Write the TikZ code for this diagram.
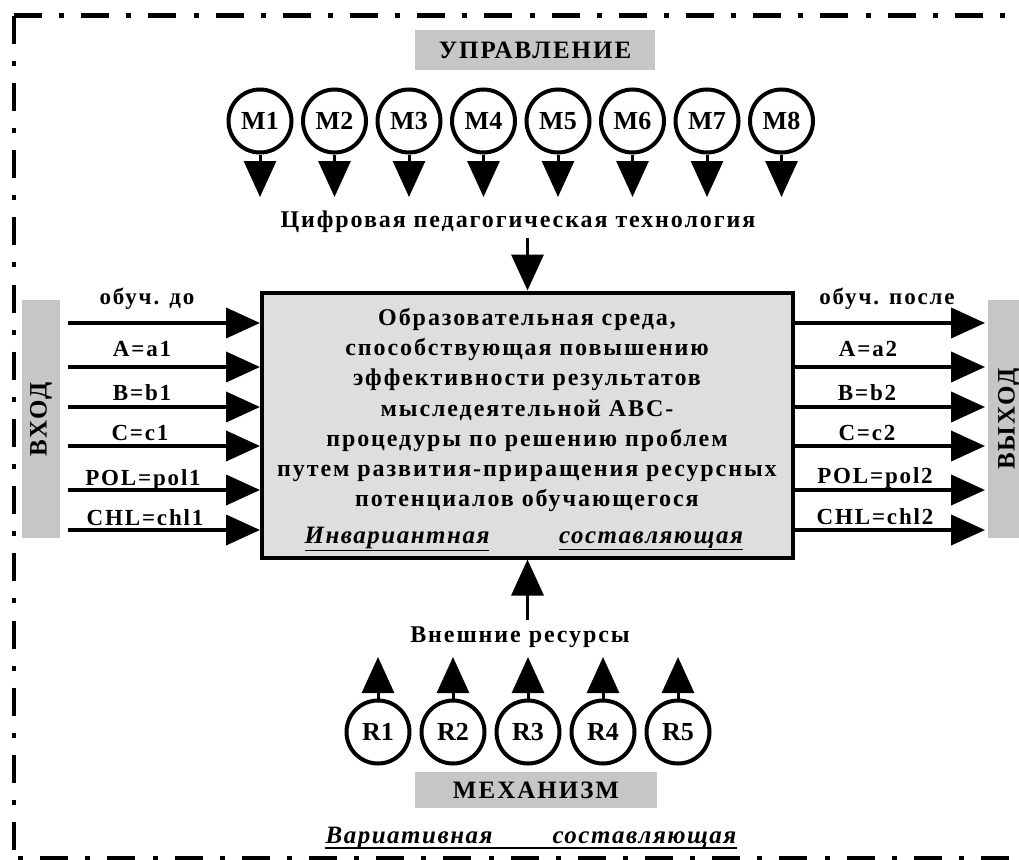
\documentclass[tikz,border=0pt]{standalone}
\usepackage{fontspec}
\setmainfont{Liberation Serif}
\newfontfamily\bx{Liberation Serif}[LetterSpace=8]
\newfontfamily\bxi{Liberation Serif}[LetterSpace=6]
\usetikzlibrary{arrows.meta}
\definecolor{boxgray}{HTML}{C6C6C6}
\definecolor{mainfill}{HTML}{DEDEDE}
\begin{document}
\begin{tikzpicture}[x=1pt,y=-1pt,
  frame/.style={line width=4.5pt, dash pattern=on 28pt off 17.1pt on 5pt off 17.1pt},
  graybox/.style={fill=boxgray, inner sep=0pt, font=\bx\bfseries\fontsize{25}{28}\selectfont},
  mcirc/.style={circle, draw, line width=4pt, minimum size=63pt, inner sep=0pt, font=\bfseries\fontsize{26}{28}\selectfont},
  lab/.style={anchor=base, inner sep=0pt, font=\bx\bfseries\fontsize{23}{26}\selectfont},
  harrow/.style={line width=4pt, -{Triangle[length=34pt,width=30pt]}},
  varrow/.style={line width=3pt, -{Triangle[length=36pt,width=32pt]}},
  bigarrow/.style={line width=3.5pt, -{Triangle[length=36pt,width=32pt]}},
  caption/.style={inner sep=0pt, font=\bx\bfseries\fontsize{24}{28}\selectfont},
  ital/.style={anchor=base, inner sep=0pt, font=\bxi\bfseries\itshape\fontsize{25}{28}\selectfont},
  sidetext/.style={rotate=90, inner sep=0pt, font=\bx\bfseries\fontsize{25}{28}\selectfont}
]
\useasboundingbox (0,0) rectangle (1019,859);
\clip (0,0) rectangle (1019,859);
% frame
\coordinate (c0) at (14,15.7);
\coordinate (cR) at (1040,15.7);
\coordinate (cB) at (14,880);
\coordinate (b0) at (14,858);
\coordinate (bR) at (1040,858);
\draw[frame] (c0) -- (cR);
\draw[frame] (c0) -- (cB);
\draw[frame, dash phase=41pt] (b0) -- (bR);

% top control
\node[graybox, minimum width=240pt, minimum height=40pt] (upr) at (535,50) {УПРАВЛЕНИЕ};
\foreach \i in {1,...,8} {
  \node[mcirc] (M\i) at ({260+74.5*(\i-1)},121) {M\i};
  \coordinate (Mt\i) at ({260+74.5*(\i-1)},197);
  \draw[varrow] (M\i.south) -- (Mt\i);
}
\node[caption] (tech) at (518,222) {Цифровая педагогическая технология};

% main box
\node[draw, line width=4pt, fill=mainfill, minimum width=531pt, minimum height=265pt, inner sep=0pt] (main) at (527.5,425) {};
\node[inner sep=0pt, align=center, font=\bx\bfseries\fontsize{24}{30.3}\selectfont] (maintext) at (527,410)
 {Образовательная среда,\\способствующая повышению\\эффективности результатов\\мыследеятельной ABC-\\процедуры по решению проблем\\путем развития-приращения ресурсных\\потенциалов обучающегося};
\node[ital] (inv) at (397,543) {\underline{Инвариантная}};
\node[ital] (sost) at (651,543) {\underline{составляющая}};

\coordinate (techbot) at (527.5,238);
\draw[bigarrow] (techbot) -- (main.north);

% input
\node[graybox, minimum width=38pt, minimum height=238pt] (vhod) at (41,419) {};
\node[sidetext] (vhodt) at (vhod.center) {ВХОД};
\foreach \y/\t/\bl/\lx [count=\k] in {323/обуч. до/304/147, 367/A=a1/356/142, 407/B=b1/400/142, 446/C=c1/440/140, 490/POL=pol1/485/143, 530/CHL=chl1/525/145} {
  \coordinate (in\k) at (68,\y);
  \draw[harrow] (in\k) -- (main.west |- in\k);
  \node[lab] (inl\k) at (\lx,\bl) {\t};
}

% output
\node[graybox, minimum width=42pt, minimum height=238pt] (vyhod) at (1009,419) {};
\node[sidetext] (vyhodt) at (vyhod.center) {ВЫХОД};
\foreach \y/\t/\bl/\lx [count=\k] in {323/обуч. после/304/887, 367/A=a2/356/868, 407/B=b2/400/867, 446/C=c2/440/867, 490/POL=pol2/483/875, 530/CHL=chl2/524/875} {
  \coordinate (out\k) at (985,\y);
  \draw[harrow] (main.east |- out\k) -- (out\k);
  \node[lab] (outl\k) at (\lx,\bl) {\t};
}

% mechanism
\coordinate (resbot) at (527.5,620);
\draw[bigarrow] (resbot) -- (main.south);
\node[caption] (res) at (520,637) {Внешние ресурсы};
\foreach \i in {1,...,5} {
  \node[mcirc] (R\i) at ({378+75*(\i-1)},732) {R\i};
  \coordinate (Rt\i) at ({378+75*(\i-1)},657);
  \draw[varrow] (R\i.north) -- (Rt\i);
}
\node[graybox, minimum width=242pt, minimum height=36pt] (mech) at (536,790) {МЕХАНИЗМ};
\node[ital] (var) at (531,843) {Вариативная\hspace{60pt}составляющая};
\draw[line width=1.2pt] ([yshift=-5pt]var.base west) -- ([yshift=-5pt]var.base east);
\end{tikzpicture}
\end{document}
